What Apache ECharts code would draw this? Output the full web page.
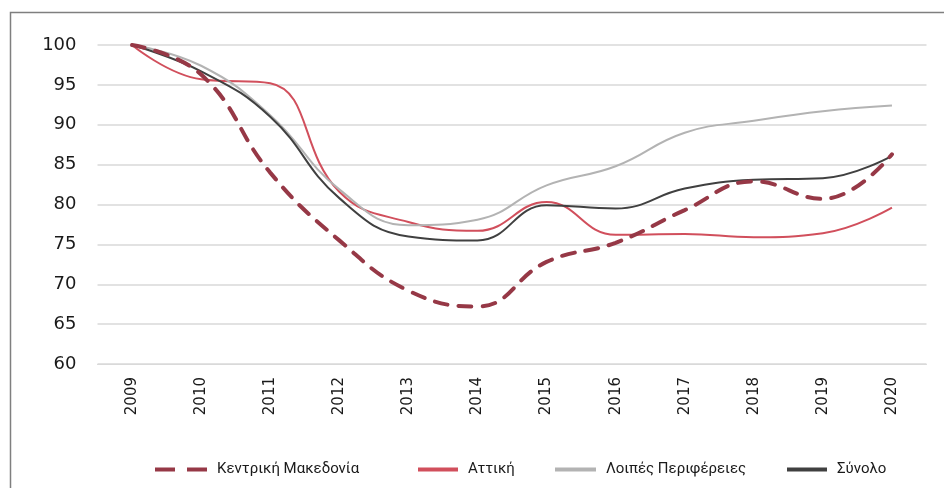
<!DOCTYPE html>
<html lang="el">
<head>
  <meta charset="UTF-8" />
  <title>Δείκτης 2009=100</title>
  <script src="https://cdn.jsdelivr.net/npm/echarts@6/dist/echarts.min.js"></script>
  <style>
    html, body { margin: 0; padding: 0; background: #fff; }
    #main { width: 944px; height: 488px; }
  </style>
</head>
<body>
  <div id="main"></div>
  <script>
    const years = ['2009', '2010', '2011', '2012', '2013', '2014', '2015', '2016', '2017', '2018', '2019', '2020'];
    const kentrikiMakedonia = [100, 96.3, 84.0, 75.5, 69.2, 67.2, 72.8, 75.2, 79.3, 82.9, 80.7, 86.3];
    const attiki = [100, 95.7, 95.2, 81.6, 77.8, 76.7, 80.3, 76.2, 76.3, 75.9, 76.4, 79.6];
    const loipes = [100, 97.4, 91.2, 81.9, 77.4, 78.1, 82.4, 84.8, 89.0, 90.5, 91.7, 92.4];
    const synolo = [100, 96.7, 91.0, 80.8, 76.0, 75.5, 79.9, 79.5, 82.0, 83.1, 83.3, 86.1];

    const names = ['Κεντρική Μακεδονία', 'Αττική', 'Λοιπές Περιφέρειες', 'Σύνολο'];
    const values = [kentrikiMakedonia, attiki, loipes, synolo];
    const colors = ['#963846', '#d14f5c', '#b3b3b3', '#404040'];

    const chart = echarts.init(document.getElementById('main'));

    const legendText = { fontFamily: 'Roboto', fontSize: 15, color: '#1a1a1a', padding: [0, 0, 0, 5] };
    // Excel-style spacing is uneven, so one legend per item
    const legendPos = [
      { left: 155, w: 52, icon: 'path://M0,0H20V4H0Z M32,0H52V4H32Z' },
      { left: 418, w: 40, icon: 'path://M0,0H40V4H0Z' },
      { left: 555, w: 41, icon: 'path://M0,0H41V4H0Z' },
      { left: 787, w: 40, icon: 'path://M0,0H40V4H0Z' }
    ];

    chart.setOption({
      backgroundColor: '#fff',
      animation: false,
      graphic: [{
        type: 'rect',
        shape: { x: 10.5, y: 12.5, width: 1000, height: 1000 },
        style: { fill: 'none', stroke: '#7f7f7f', lineWidth: 1.5 },
        silent: true
      }],
      legend: legendPos.map((p, i) => ({
        data: [{ name: names[i], icon: p.icon }],
        orient: 'horizontal',
        left: p.left,
        top: 462,
        padding: 0,
        itemWidth: p.w,
        itemHeight: 4,
        itemStyle: { color: colors[i], borderWidth: 0 },
        textStyle: legendText,
        selectedMode: false
      })),
      grid: { left: 97.5, right: 17.5, top: 45, bottom: 124 },
      xAxis: {
        type: 'category',
        data: years,
        boundaryGap: true,
        axisLine: { show: true, lineStyle: { color: '#d9d9d9', width: 1 } },
        axisTick: { show: false },
        axisLabel: {
          rotate: 90,
          margin: 13,
          fontFamily: 'DejaVu Sans',
          fontSize: 15,
          color: '#1a1a1a'
        }
      },
      yAxis: {
        type: 'value',
        min: 60,
        max: 100,
        interval: 5,
        axisLine: { show: false },
        axisTick: { show: false },
        splitLine: { lineStyle: { color: '#d9d9d9', width: 1.5 } },
        axisLabel: {
          margin: 21,
          fontFamily: 'DejaVu Sans',
          fontSize: 18,
          color: '#1a1a1a'
        }
      },
      series: names.map((n, i) => ({
        name: n,
        type: 'line',
        data: values[i],
        smooth: 0.45,
        showSymbol: false,
        symbol: 'none',
        z: i === 0 ? 5 : 3,
        lineStyle: i === 0
          ? { color: colors[i], width: 4, type: [13, 11], cap: 'round' }
          : { color: colors[i], width: 2 },
        itemStyle: { color: colors[i] }
      }))
    });
  </script>
</body>
</html>
